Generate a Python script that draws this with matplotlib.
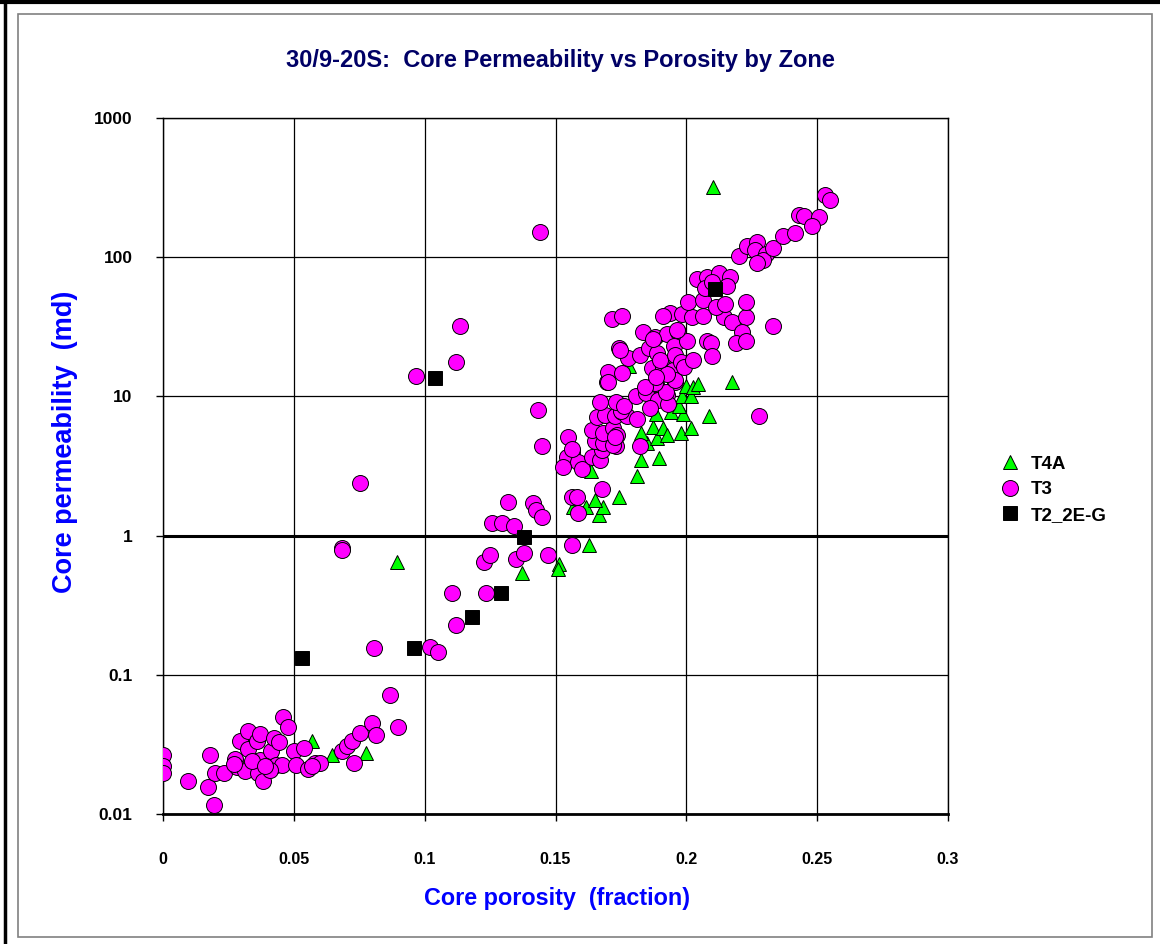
import numpy as np
import matplotlib
matplotlib.use("Agg")
import matplotlib.pyplot as plt
from matplotlib.lines import Line2D
from matplotlib.patches import Rectangle
from matplotlib.ticker import FixedLocator, FixedFormatter

plt.rcParams['font.family'] = ['Liberation Sans', 'DejaVu Sans']

# ---- zone T4A ----
t4a_phi = [0.210, 0.0894, 0.0569, 0.0646, 0.0776, 0.1372, 0.1513, 0.1509, 0.1628,
           0.1567, 0.1666, 0.1616, 0.1681, 0.1651, 0.1742, 0.1635, 0.1811, 0.1827,
           0.1895, 0.1849, 0.1827, 0.1888, 0.1872, 0.1911, 0.1926, 0.1979, 0.2018,
           0.1884, 0.1941, 0.1987, 0.1972, 0.2086, 0.1983, 0.2018, 0.1998, 0.2025,
           0.2044, 0.2174, 0.178]
t4a_k = [319, 0.645, 0.0334, 0.0266, 0.0274, 0.54, 0.62, 0.58, 0.86,
         1.6, 1.4, 1.6, 1.6, 1.8, 1.9, 2.9, 2.7, 3.5,
         3.6, 4.6, 5.5, 5.0, 6.0, 5.9, 5.3, 5.5, 5.9,
         7.5, 7.7, 7.5, 8.5, 7.2, 10.1, 10.1, 11.9, 11.7,
         12.3, 12.7, 16.5]

# ---- zone T3 ----
t3_phi = [0.0, 0.0, 0.0, 0.0096, 0.018, 0.0172, 0.0195, 0.0199, 0.0233, 0.0275,
          0.0283, 0.0294, 0.0325, 0.0325, 0.0313, 0.0359, 0.0371, 0.0371, 0.0363,
          0.0382, 0.0413, 0.0424, 0.0443, 0.0432, 0.0455, 0.0409, 0.0459, 0.0478,
          0.0501, 0.0539, 0.0508, 0.0554, 0.0581, 0.060, 0.0684, 0.0703, 0.0722,
          0.0753, 0.0799, 0.0814, 0.073, 0.0867, 0.0898, 0.027, 0.034, 0.039, 0.057,
          0.0806, 0.102, 0.105, 0.112, 0.1104, 0.1234,
          0.0684, 0.0684, 0.0753,
          0.1227, 0.125, 0.1349, 0.138, 0.1471, 0.1563,
          0.1257, 0.1295, 0.1341, 0.1318, 0.1414, 0.1425, 0.1448,
          0.1433, 0.1448, 0.0967, 0.112, 0.1135, 0.144,
          0.1563, 0.1582, 0.1586, 0.1678,
          0.1548, 0.1563, 0.1544, 0.1586, 0.1528, 0.1601, 0.1563,
          0.1639, 0.167, 0.1678, 0.167, 0.1697, 0.1731, 0.1651, 0.1681, 0.172,
          0.1639, 0.1681, 0.172, 0.1735, 0.1727, 0.1823,
          0.1658, 0.1689, 0.1727, 0.1754, 0.1773, 0.1811, 0.175,
          0.167, 0.1731, 0.1762, 0.1807, 0.1846, 0.1884, 0.1926, 0.1891, 0.193,
          0.1861, 0.1956, 0.1697, 0.1922,
          0.170, 0.170, 0.1754, 0.1869, 0.1911, 0.1949, 0.1956, 0.1926, 0.188,
          0.1842, 0.1884,
          0.1742, 0.1777, 0.1823, 0.1857, 0.1888, 0.1899, 0.1834, 0.188, 0.1926,
          0.1968, 0.1953, 0.2002, 0.1956, 0.1979, 0.1991, 0.2025, 0.2079, 0.2094,
          0.2098, 0.1746,
          0.1716, 0.1754, 0.1937, 0.191, 0.1983, 0.2021, 0.2063, 0.2144, 0.2174,
          0.2228, 0.2212, 0.219, 0.2228, 0.2331, 0.2277,
          0.2006, 0.2063, 0.2113, 0.2147, 0.2228, 0.1964, 0.1872,
          0.204, 0.2079, 0.2125, 0.2167, 0.2155, 0.2071, 0.2098,
          0.2201, 0.2232, 0.227, 0.2262, 0.2304, 0.2293, 0.227, 0.2331, 0.2369,
          0.2415, 0.243, 0.245, 0.2507, 0.248, 0.2529, 0.255]
t3_k = [0.0265, 0.0221, 0.0197, 0.0173, 0.0265, 0.0156, 0.0116, 0.0197, 0.0197, 0.0248,
        0.0218, 0.0334, 0.0395, 0.0293, 0.0204, 0.0334, 0.0376, 0.0244, 0.0197,
        0.0173, 0.0284, 0.0352, 0.0329, 0.0225, 0.0225, 0.0207, 0.0498, 0.0422,
        0.0284, 0.0298, 0.0225, 0.0211, 0.0232, 0.0232, 0.0284, 0.0308, 0.0334,
        0.0382, 0.0451, 0.037, 0.0232, 0.0716, 0.0422, 0.023, 0.024, 0.022, 0.022,
        0.156, 0.158, 0.146, 0.228, 0.387, 0.387,
        0.81, 0.79, 2.39,
        0.645, 0.73, 0.68, 0.75, 0.73, 0.86,
        1.23, 1.24, 1.17, 1.74, 1.71, 1.53, 1.36,
        8.0, 4.4, 14.0, 17.7, 32, 152,
        1.9, 1.9, 1.45, 2.16,
        5.1, 4.0, 3.7, 3.4, 3.1, 3.0, 4.2,
        3.7, 3.5, 4.1, 4.7, 4.9, 4.4, 4.8, 4.6, 4.5,
        5.7, 5.5, 5.9, 5.3, 5.1, 4.4,
        7.1, 7.4, 7.2, 7.7, 7.2, 6.9, 7.9,
        9.1, 9.1, 8.5, 10.1, 10.6, 12.3, 10.2, 9.4, 8.8,
        8.3, 12.7, 12.7, 10.7,
        15.0, 12.7, 14.7, 16.0, 16.3, 15.5, 13.1, 14.5, 12.5,
        11.7, 13.8,
        22.3, 18.9, 19.8, 22.3, 20.5, 18.2, 29, 26.7, 28,
        29, 23, 25, 19.8, 17.7, 16.3, 18.2, 25, 24,
        19.5, 21.5,
        36, 38, 40, 38, 39, 37, 38, 37, 34,
        37, 29, 24, 25, 32, 7.2,
        48, 49, 44, 46, 48, 30, 26,
        70, 72, 77, 72, 62, 60, 66,
        102, 120, 129, 113, 105, 95, 91, 116, 142,
        149, 201, 198, 195, 168, 280, 258]

# ---- zone T2_2E-G ----
t2_phi = [0.053, 0.096, 0.118, 0.129, 0.138, 0.104, 0.211]
t2_k = [0.132, 0.156, 0.26, 0.39, 0.98, 13.6, 59]

xticks = [0, 0.05, 0.1, 0.15, 0.2, 0.25, 0.3]
xticklabels = ['0', '0.05', '0.1', '0.15', '0.2', '0.25', '0.3']
yticks = [0.01, 0.1, 1, 10, 100, 1000]
yticklabels = ['0.01', '0.1', '1', '10', '100', '1000']

W, H = 1160, 944
fig = plt.figure(figsize=(W / 100, H / 100), dpi=100)

# outer border (top and left) and grey chart-area box
fig.add_artist(Line2D([0, 1], [1 - 2 / H, 1 - 2 / H], transform=fig.transFigure,
                      color='black', linewidth=3))
fig.add_artist(Line2D([5 / W, 5 / W], [0, 1], transform=fig.transFigure,
                      color='black', linewidth=2.5))
fig.patches.append(Rectangle((18 / W, 1 - 937 / H), (1152 - 18) / W, (937 - 14) / H,
                             transform=fig.transFigure, fill=False,
                             edgecolor='#808080', linewidth=1.2))

ax = fig.add_axes([163 / W, 1 - 814 / H, (948 - 163) / W, (814 - 118) / H])
ax.set_yscale('log')
ax.set_xlim(0, 0.3)
ax.set_ylim(0.01, 1000)

ax.grid(True, which='major', color='black', linewidth=0.9)
ax.axhline(1, color='black', linewidth=2.2, zorder=1.5)
ax.set_axisbelow(True)

ax.plot(t4a_phi, t4a_k, linestyle='none', marker='^', markersize=10.5,
        markerfacecolor='#00FF00', markeredgecolor='black', markeredgewidth=0.7,
        label='T4A', zorder=3)
ax.plot(t3_phi, t3_k, linestyle='none', marker='o', markersize=11.5,
        markerfacecolor='#FF00FF', markeredgecolor='black', markeredgewidth=0.7,
        label='T3', zorder=4)
ax.plot(t2_phi, t2_k, linestyle='none', marker='s', markersize=10.5,
        markerfacecolor='black', markeredgecolor='black', markeredgewidth=0.7,
        label='T2_2E-G', zorder=5)

ax.xaxis.set_major_locator(FixedLocator(xticks))
ax.xaxis.set_major_formatter(FixedFormatter(xticklabels))
ax.yaxis.set_major_locator(FixedLocator(yticks))
ax.yaxis.set_major_formatter(FixedFormatter(yticklabels))
ax.yaxis.set_minor_locator(FixedLocator([]))

ax.tick_params(axis='both', which='major', direction='out', length=5, width=1)
ax.tick_params(axis='x', pad=22, labelsize=11.5)
ax.tick_params(axis='y', pad=17, labelsize=12.5)
for lab in ax.get_xticklabels() + ax.get_yticklabels():
    lab.set_fontweight('bold')

for side in ['left', 'top', 'right']:
    ax.spines[side].set_linewidth(1.0)
ax.spines['bottom'].set_linewidth(2.0)

fig.text(557 / W, 1 - 898 / H, 'Core porosity  (fraction)', ha='center', va='center',
         fontsize=16.8, fontweight='bold', color='#0000FF')
fig.text(65 / W, 1 - 442 / H, 'Core permeability  (md)', ha='center', va='center',
         rotation=90, fontsize=19.5, fontweight='bold', color='#0000FF')
fig.text(560 / W, 1 - 60 / H, '30/9-20S:  Core Permeability vs Porosity by Zone',
         ha='center', va='center', fontsize=17, fontweight='bold', color='#000066')

leg = ax.legend(loc='center left', bbox_to_anchor=(1.055, 0.466), frameon=False,
                prop={'weight': 'bold', 'size': 13.5}, handletextpad=0.5,
                labelspacing=0.45, borderaxespad=0, handlelength=1.2)

plt.savefig('out.png', dpi=100)
plt.close()
